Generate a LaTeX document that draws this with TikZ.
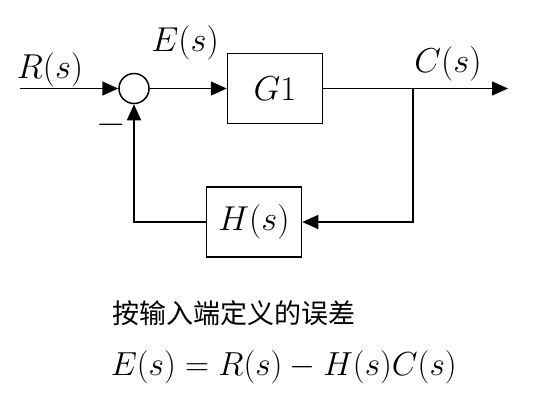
\documentclass[tikz,border=0pt]{standalone}
\usepackage{fontspec}
\usepackage{graphicx}
\newfontfamily\cjk{Noto Sans CJK SC}
\usetikzlibrary{arrows.meta}

\begin{document}
\begin{tikzpicture}[x=0.5pt, y=-0.5pt, line width=0.75pt,
  >={Triangle[length=8pt,width=7pt]},
  every node/.style={font=\fontsize{17.28}{20}\selectfont},
  block/.style={draw, minimum width=47.5pt, minimum height=35pt, inner sep=0pt},
  sumnode/.style={draw, circle, minimum size=15pt, inner sep=0pt}]

\useasboundingbox (0,0) rectangle (534,408);

% --- blocks ---
\node[sumnode] (sum) at (134,88.5) {};
\node[block] (G1) at (275,88.5) {$G1$};
\node[block] (H) at (254,222) {$H(s)$};

% --- signal points ---
\coordinate (in) at (20,88.5);
\coordinate (out) at (508,88.5);
\coordinate (branch) at (413,88.5);
\coordinate (corner) at (413,222);
\coordinate (back) at (sum|-H);

% --- forward path ---
\draw[->] (in) -- (sum);
\draw[->] (sum) -- (G1);
\draw[->] (G1) -- (out);

% --- feedback path ---
\draw[->] (branch) -- (corner) -- (H);
\draw[->] (H) -- (back) -- (sum);

% --- signal labels ---
\node (R) at (50,70) {$R(s)$};
\node (E) at (185,43) {$E(s)$};
\node (C) at (448,64) {$C(s)$};
\node (minus) at (111,125) {\scalebox{1.1}[1]{$-$}};

% --- definition ---
\node[anchor=west, inner sep=0pt, font=\cjk\fontsize{13.5}{16}\selectfont] (title) at (112,313) {按输入端定义的误差};
\node[anchor=west, inner sep=0pt] (eq) at (110,367) {\scalebox{0.965}{$E(s) = R(s) - H(s)C(s)$}};

\end{tikzpicture}
\end{document}
